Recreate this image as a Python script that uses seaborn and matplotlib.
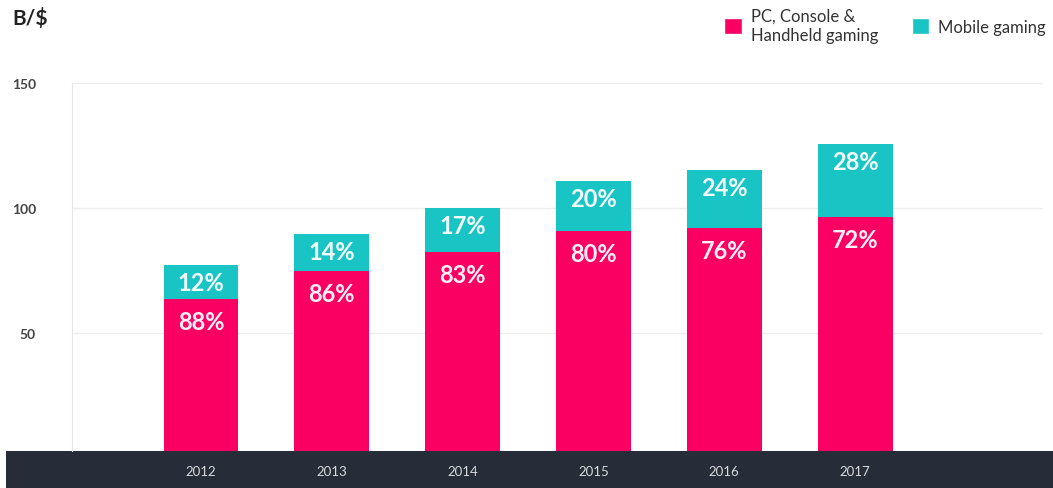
import matplotlib
matplotlib.use("Agg")
import matplotlib.pyplot as plt
from matplotlib.patches import Rectangle, Patch
import seaborn as sns
import pandas as pd

# Values (B/$)
years = ["2012", "2013", "2014", "2015", "2016", "2017"]
pc_console = [63.7, 74.8, 82.5, 90.9, 92.0, 96.4]
mobile = [13.5, 14.8, 17.5, 19.8, 23.2, 29.2]
pc_share = ["88%", "86%", "83%", "80%", "76%", "72%"]
mobile_share = ["12%", "14%", "17%", "20%", "24%", "28%"]

pink = "#FA0062"
teal = "#19C4C4"
band = "#262D38"

sns.set_style("white")
plt.rcParams["font.family"] = ["Lato", "DejaVu Sans"]

df = pd.DataFrame({"year": years, "pc": pc_console, "mobile": mobile})
df["total"] = df["pc"] + df["mobile"]

W, H = 1053, 489
fig = plt.figure(figsize=(W / 100, H / 100), dpi=100)
ax = fig.add_axes([72 / W, (H - 452) / H, (1043 - 72) / W, (452 - 84) / H])

# dark strip at the bottom holding the year labels
fig.patches.append(Rectangle((6 / W, 0), 1 - 6 / W, 37 / H, transform=fig.transFigure,
                             facecolor=band, edgecolor="none", zorder=-1))

# stacked bars: total in teal, pc/console drawn on top in pink
sns.barplot(data=df, x="year", y="total", color=teal, width=0.573, saturation=1,
            linewidth=0, edgecolor="none", ax=ax)
sns.barplot(data=df, x="year", y="pc", color=pink, width=0.573, saturation=1,
            linewidth=0, edgecolor="none", ax=ax)

for i, row in df.iterrows():
    ax.text(i, row["total"] - 7, mobile_share[i], ha="center", va="center",
            color="#F4FFFF", fontsize=17, fontweight="bold")
    ax.text(i, row["pc"] - 9.2, pc_share[i], ha="center", va="center",
            color="#FFF0F6", fontsize=17, fontweight="bold")

ax.set_xlim(-0.986, 6.437)
ax.set_ylim(2.8, 150)
ax.set_yticks([50, 100, 150])
ax.yaxis.grid(True, color="#EDEDED", linewidth=1)
ax.set_axisbelow(True)
for s in ["top", "right", "bottom"]:
    ax.spines[s].set_visible(False)
ax.spines["left"].set_color("#E6E6E6")
ax.tick_params(axis="y", length=0, pad=26, labelsize=10, labelcolor="#444444")
ax.tick_params(axis="x", length=0, pad=10, labelsize=9.5, labelcolor="#D8DADC")
for lbl in ax.get_yticklabels():
    lbl.set_fontweight("bold")
ax.set_xlabel("")
ax.set_ylabel("")

fig.text(12 / W, 1 - 19 / H, "B/$", fontsize=15, fontweight="bold", color="#222222",
         va="center", ha="left")

handles = [Patch(facecolor=pink, label="PC, Console &\nHandheld gaming"),
           Patch(facecolor=teal, label="Mobile gaming")]
fig.legend(handles=handles, loc="upper right", bbox_to_anchor=(1046 / W, 1 - 9 / H), ncol=2,
           frameon=False, fontsize=12, handlelength=1.05, handleheight=1.05,
           columnspacing=2.0, handletextpad=0.55, labelcolor="#333333",
           borderpad=0, borderaxespad=0)

fig.savefig("out.png", dpi=100)
